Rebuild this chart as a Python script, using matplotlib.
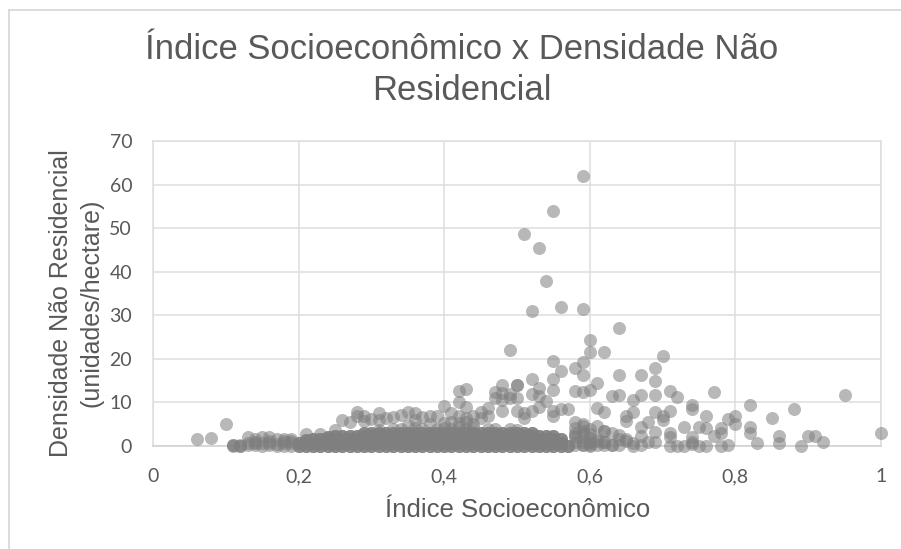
import matplotlib
matplotlib.use("Agg")
import matplotlib.pyplot as plt
from matplotlib.lines import Line2D

title = "Índice Socioeconômico x Densidade Não\nResidencial"
x_label = "Índice Socioeconômico"
y_label = "Densidade Não Residencial\n(unidades/hectare)"
x_ticks = [0, 0.2, 0.4, 0.6, 0.8, 1.0]
x_tick_labels = ["0", "0,2", "0,4", "0,6", "0,8", "1"]
y_ticks = [0, 10, 20, 30, 40, 50, 60, 70]

# isolated points
sparse_x = [0.59,0.55,0.51,0.53,0.54,0.56,0.52,0.59,0.64,0.60,0.60,0.62,0.49,0.70,0.55,0.59,0.58,0.69,0.59,0.56,
            0.55,0.52,0.50,0.48,0.53,0.55,0.58,0.59,0.60,0.61,0.64,0.67,0.69,0.64,0.63,0.67,0.69,0.71,0.72,0.77,
            0.95,0.66,0.74,0.74,0.82,0.88,0.80,0.85,0.79,0.80,0.76,0.75,0.76,0.73,0.78,0.77,0.78,0.82,0.82,0.83,
            0.86,0.86,0.89,0.90,0.91,0.92,1.00,0.69,0.70,0.70,0.71,0.68,0.67,0.69,0.66,0.65,0.65,0.62,0.61,0.71,
            0.71,0.71,0.72,0.74,0.74,0.74,0.76,0.78,0.79,0.75,0.73,0.69,0.67,0.67,0.66,0.65,0.63,0.06,0.08,0.10,
            0.11,0.12,0.13,0.14,0.15,0.16,0.17,0.18,0.19,0.21,0.23,0.25,0.26,0.27,0.28,0.29,0.29,0.31,0.31,0.33,
            0.35,0.36,0.36,0.38,0.40,0.42,0.43,0.42,0.43,0.45,0.46,0.47,0.48,0.48,0.49,0.50,0.50,0.51,0.53,0.54,
            0.55,0.55,0.56,0.57,0.48,0.47,0.52,0.53,0.46,0.44,0.45,0.49,0.50,0.51,0.52,0.58,0.59,0.60,0.61,0.62,
            0.63,0.64,0.58,0.59,0.60,0.61,0.62,0.64,0.65,0.66,0.68,0.62,0.60,0.43,0.42,0.41,0.39,0.34,0.28,0.30,
            0.32,0.37]
sparse_y = [62.0,54.0,48.7,45.5,37.8,32.0,31.0,31.5,27.0,24.3,21.6,21.6,22.0,20.6,19.5,19.2,17.9,18.0,16.3,17.2,
            15.4,15.4,14.0,14.0,13.3,12.8,12.6,12.3,12.8,14.4,16.3,16.3,15.0,11.7,11.5,11.7,11.7,12.6,11.2,12.3,
            11.8,10.5,9.5,8.5,9.4,8.4,7.0,6.4,6.2,5.0,6.9,4.4,4.1,4.4,4.1,2.4,3.0,4.3,3.0,0.7,
            2.4,0.8,0.1,2.4,2.4,1.0,3.0,7.8,7.0,6.0,8.0,5.5,4.4,3.2,7.8,7.0,5.7,7.8,8.8,3.0,
            2.0,0.1,0.1,2.0,1.0,0.5,0.1,0.1,0.3,0.1,0.1,1.0,2.3,0.2,0.1,1.5,0.2,1.6,1.9,5.0,
            0.3,0.1,2.0,1.7,2.0,2.0,1.7,1.5,1.7,2.8,2.8,3.7,6.0,5.5,7.8,7.0,5.7,7.5,6.0,6.6,
            7.9,7.5,6.0,6.8,9.1,12.6,13.0,10.2,9.0,7.8,8.8,12.4,12.2,8.0,12.0,14.0,8.0,7.5,9.0,10.3,
            8.0,7.0,8.5,8.5,10.5,11.0,12.0,11.5,6.8,7.0,6.5,11.0,11.0,6.5,8.0,5.5,5.0,4.0,4.5,3.5,
            3.0,2.5,2.5,3.5,2.8,1.5,1.0,1.5,1.2,0.8,1.0,3.5,0.8,6.5,7.0,7.5,7.0,7.2,6.8,6.2,
            6.4,6.7]

# low-lying points at the thin left end of the cloud
left_x = [0.11,0.12,0.13,0.14,0.15,0.16,0.17,0.18,0.19,0.13,0.14,0.15,0.16,0.17,0.18,0.19,0.18,0.19,0.11,0.12,0.14,0.16]
left_y = [0.1,0.1,0.2,0.2,0.1,0.2,0.1,0.1,0.1,0.8,0.7,0.6,0.8,0.5,0.6,0.7,1.2,1.2,0.2,0.3,1.0,1.1]

# rows of points that build the dense band along the axis
row1_x = [0.20,0.21,0.22,0.23,0.24,0.25,0.26,0.27,0.28,0.29,0.30,0.31,0.32,0.33,0.34,0.35,0.36,0.37,0.38,0.39,0.40,0.41,0.42,0.43,0.44,0.45,0.46,0.47,0.48,0.49,0.50,0.51,0.52,0.53,0.54,0.55,0.56,0.57]
row1_y = [0.1,0.1,0.1,0.1,0.1,0.1,0.1,0.1,0.1,0.1,0.1,0.1,0.1,0.1,0.1,0.1,0.1,0.1,0.1,0.1,0.1,0.1,0.1,0.1,0.1,0.1,0.1,0.1,0.1,0.1,0.1,0.1,0.1,0.1,0.1,0.1,0.1,0.1]
row2_x = [0.20,0.21,0.22,0.23,0.24,0.25,0.26,0.27,0.28,0.29,0.30,0.31,0.32,0.33,0.34,0.35,0.36,0.37,0.38,0.39,0.40,0.41,0.42,0.43,0.44,0.45,0.46,0.47,0.48,0.49,0.50,0.51,0.52,0.53,0.54,0.55,0.56]
row2_y = [0.7,0.8,0.8,0.8,0.8,0.8,0.8,0.8,0.8,0.8,0.8,0.8,0.8,0.8,0.8,0.8,0.8,0.8,0.8,0.8,0.8,0.8,0.8,0.8,0.8,0.8,0.8,0.8,0.8,0.8,0.8,0.8,0.8,0.8,0.8,0.8,0.8]
row3_x = [0.21,0.22,0.23,0.24,0.25,0.26,0.27,0.28,0.29,0.30,0.31,0.32,0.33,0.34,0.35,0.36,0.37,0.38,0.39,0.40,0.41,0.42,0.43,0.44,0.45,0.46,0.47,0.48,0.49,0.50,0.51,0.52,0.53,0.54,0.55,0.56]
row3_y = [1.4,1.5,1.5,1.5,1.5,1.5,1.5,1.5,1.5,1.5,1.5,1.5,1.5,1.5,1.5,1.5,1.5,1.5,1.5,1.5,1.5,1.5,1.5,1.5,1.5,1.5,1.5,1.5,1.5,1.5,1.5,1.5,1.5,1.5,1.5,1.5]
row4_x = [0.24,0.25,0.26,0.27,0.28,0.29,0.30,0.31,0.32,0.33,0.34,0.35,0.36,0.37,0.38,0.39,0.40,0.41,0.42,0.43,0.44,0.45,0.46,0.47,0.48,0.49,0.50,0.51,0.52,0.53,0.54,0.55]
row4_y = [2.0,2.2,2.2,2.2,2.2,2.2,2.2,2.2,2.2,2.2,2.2,2.2,2.2,2.2,2.2,2.2,2.2,2.2,2.2,2.2,2.2,2.2,2.2,2.2,2.2,2.2,2.2,2.2,2.2,2.2,2.2,2.2]
row5_x = [0.29,0.30,0.31,0.32,0.33,0.34,0.35,0.36,0.37,0.38,0.39,0.40,0.41,0.42,0.43,0.44,0.45,0.46,0.47,0.48,0.49,0.50,0.51,0.52]
row5_y = [2.9,3.0,3.0,3.0,3.0,3.0,3.0,3.0,3.0,3.0,3.0,3.0,3.0,3.0,3.0,3.0,3.0,3.0,3.0,3.0,3.0,3.0,3.0,3.0]
# upper rows stay thin, so single circles still show along the top edge
row6_x = [0.31,0.33,0.34,0.36,0.37,0.39,0.40,0.41,0.42,0.43,0.44,0.46,0.47,0.49,0.50]
row6_y = [3.7,3.8,4.0,4.2,3.8,4.0,4.2,4.0,4.3,4.0,4.2,3.8,4.0,3.8,3.6]
row7_x = [0.35,0.38,0.40,0.41,0.42,0.43,0.44]
row7_y = [4.8,5.0,5.2,5.6,5.2,5.6,5.0]
# lumps just right of the band
lump_x = [0.58,0.59,0.60,0.61,0.62,0.63,0.64,0.58,0.59,0.60,0.61,0.62,0.58,0.59,0.60,0.58,0.59,0.58,0.59,0.59,0.60]
lump_y = [0.2,0.2,0.1,0.2,0.3,0.3,0.2,1.0,1.0,0.9,1.1,1.0,2.0,2.0,1.8,3.0,3.0,4.2,4.5,0.3,0.2]

W, H = 901, 549
fig = plt.figure(figsize=(W / 100, H / 100), dpi=100, facecolor="white")
ax = fig.add_axes([153 / W, (H - 446) / H, (881 - 153) / W, (446 - 141) / H])

grid_color = "#dedede"
ax.set_xlim(0, 1)
ax.set_ylim(0, 70)
ax.set_xticks(x_ticks)
ax.set_xticklabels(x_tick_labels)
ax.set_yticks(y_ticks)
ax.grid(True, color=grid_color, lw=1.1)
ax.set_axisbelow(True)
for s in ax.spines.values():
    s.set_color(grid_color)
    s.set_linewidth(1.1)
ax.spines["bottom"].set_color("#d0d0d0")
ax.tick_params(length=0, labelsize=14, labelcolor="#595959", pad=16)
for lab in ax.get_xticklabels() + ax.get_yticklabels():
    lab.set_family("Lato")
ax.tick_params(axis="y", pad=15)

marker = dict(s=88, color="#7f7f7f", alpha=0.55, linewidths=0, clip_on=False, zorder=3)

one_x = sparse_x + left_x + lump_x + row6_x + row7_x
one_y = sparse_y + left_y + lump_y + row6_y + row7_y
band_x = row1_x + row2_x + row3_x + row4_x + row5_x
band_y = row1_y + row2_y + row3_y + row4_y + row5_y

ax.scatter(one_x, one_y, **marker)
# the cloud holds several observations at each of these positions
for _ in range(3):
    ax.scatter(band_x, band_y, **marker)

sans = "Liberation Sans"
fig.text(462 / W, 1 - 70 / H, title, ha="center", va="center", family=sans,
         fontsize=24.9, color="#595959", linespacing=1.32)
fig.text(518 / W, 1 - 510 / H, x_label, ha="center", va="center", family=sans,
         fontsize=18.5, color="#595959")
fig.text(76 / W, 1 - 303 / H, y_label, ha="center", va="center", rotation=90, family=sans,
         fontsize=18, color="#595959", linespacing=1.36, multialignment="center")

border = "#d9d9d9"
fig.add_artist(Line2D([9 / W, 9 / W], [0, 1 - 10 / H], color=border, lw=1.3))
fig.add_artist(Line2D([9 / W, 1], [1 - 10 / H, 1 - 10 / H], color=border, lw=1.3))

fig.savefig("out.png", dpi=100)
